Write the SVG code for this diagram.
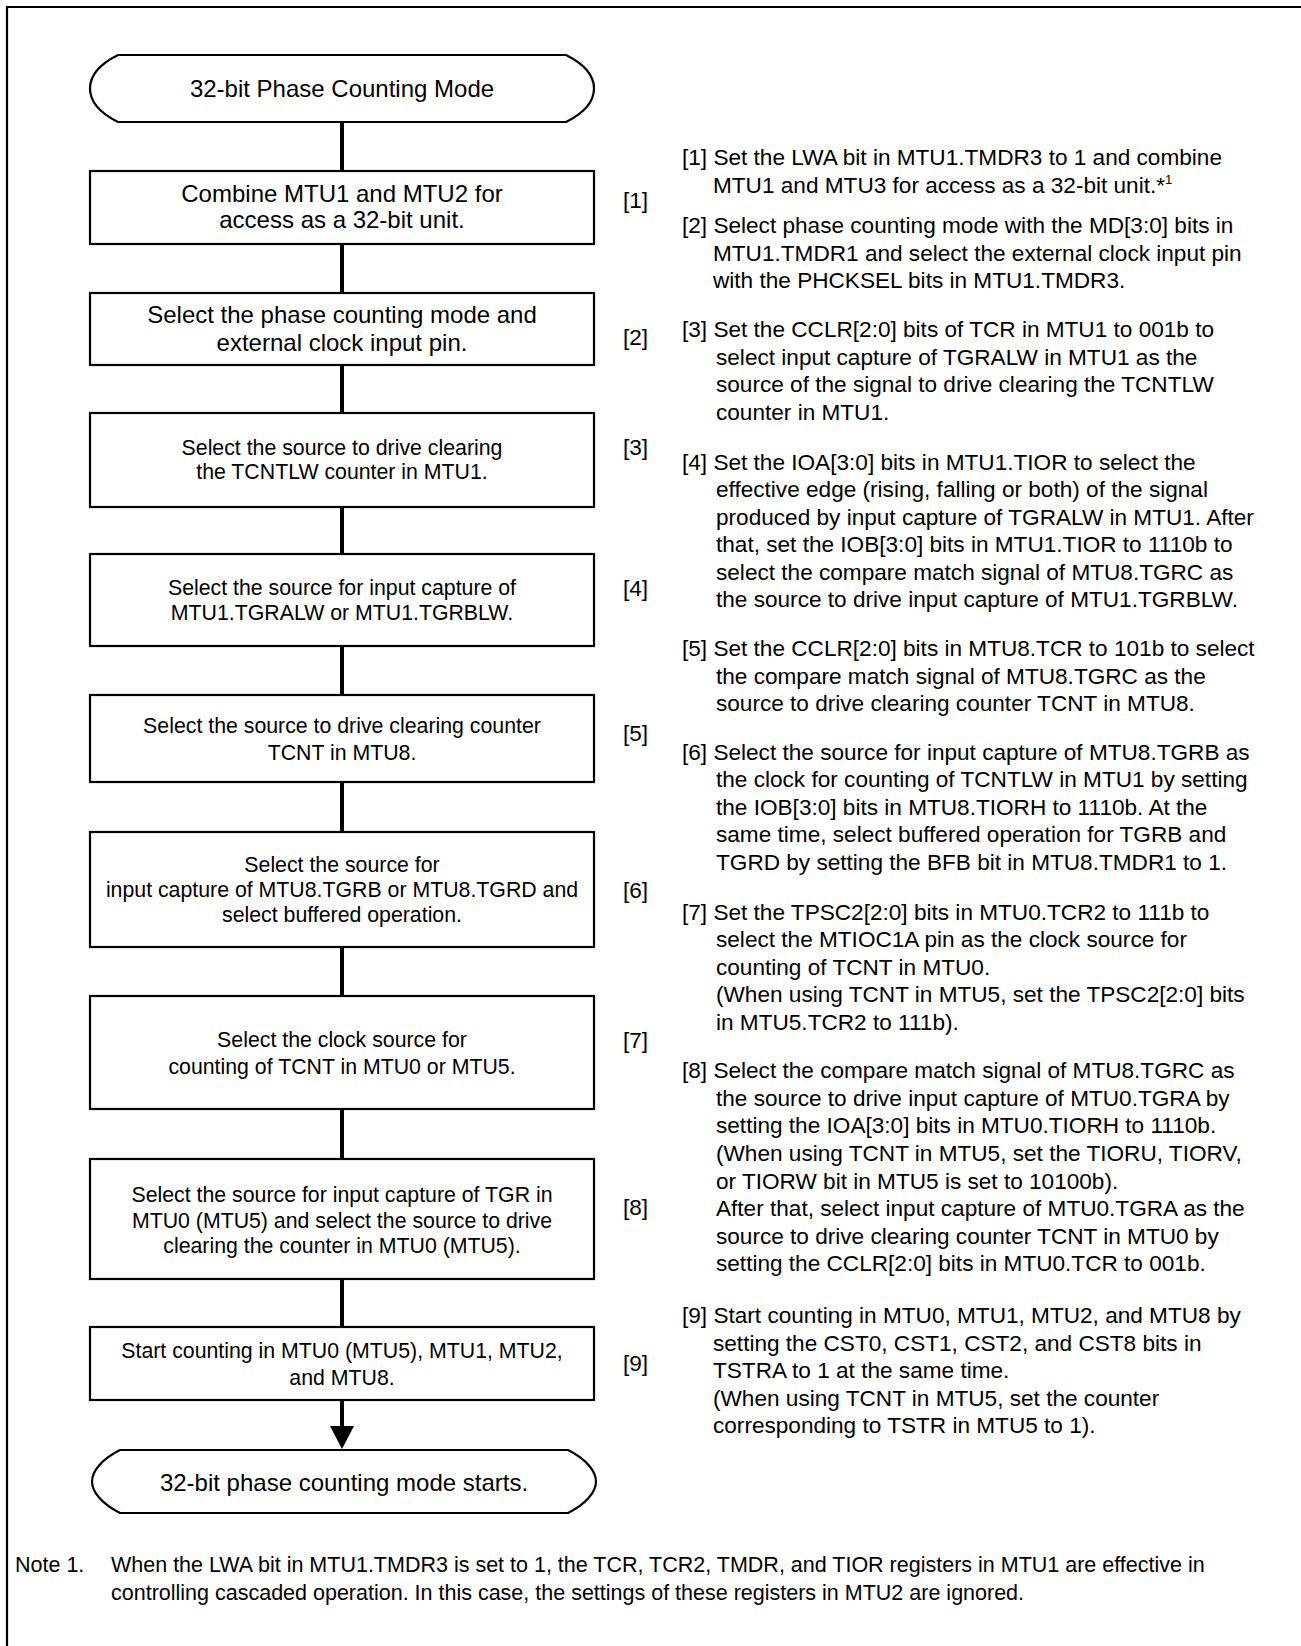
<svg xmlns="http://www.w3.org/2000/svg" width="1301" height="1646" viewBox="0 0 1301 1646">
<style>
  .frame{stroke:#000;stroke-width:2.2;fill:none}
  .box{fill:#fff;stroke:#000;stroke-width:2.2}
  .conn{stroke:#000;stroke-width:4;fill:none}
  .t{font-family:"Liberation Sans",Arial,sans-serif;font-size:21.3px;fill:#000}
  .tb{font-family:"Liberation Sans",Arial,sans-serif;font-size:24px;fill:#000}
  .c{text-anchor:middle}
  .r{font-family:"Liberation Sans",Arial,sans-serif;font-size:22.6px;fill:#000}
  .n{font-family:"Liberation Sans",Arial,sans-serif;font-size:21.5px;fill:#000}
</style>
<rect width="1301" height="1646" fill="#fff"/>
<g id="frame">
  <line class="frame" x1="7" y1="7" x2="1301" y2="7"/>
  <line class="frame" x1="7" y1="6" x2="7" y2="1646"/>
</g>
<g id="connectors">
  <line class="conn" x1="342" y1="122" x2="342" y2="171"/>
  <line class="conn" x1="342" y1="244" x2="342" y2="293"/>
  <line class="conn" x1="342" y1="365" x2="342" y2="413"/>
  <line class="conn" x1="342" y1="507" x2="342" y2="554"/>
  <line class="conn" x1="342" y1="646" x2="342" y2="695"/>
  <line class="conn" x1="342" y1="782" x2="342" y2="832"/>
  <line class="conn" x1="342" y1="947" x2="342" y2="996"/>
  <line class="conn" x1="342" y1="1109" x2="342" y2="1159"/>
  <line class="conn" x1="342" y1="1279" x2="342" y2="1327"/>
  <line class="conn" x1="342" y1="1400" x2="342" y2="1428"/>
  <polygon points="330,1426 354,1426 342,1449" fill="#000"/>
</g>
<g id="start">
  <path class="box" d="M118,55 H566 C584,64 594,76 594,88.5 C594,101 584,113 566,122 H118 C100,113 90,101 90,88.5 C90,76 100,64 118,55 Z"/>
  <text class="tb c" x="342" y="97">32-bit Phase Counting Mode</text>
</g>
<g id="step1">
  <rect class="box" x="90" y="171" width="504" height="73"/>
  <text class="tb c" x="342" y="202">Combine MTU1 and MTU2 for</text>
  <text class="tb c" x="342" y="228">access as a 32-bit unit.</text>
  <text class="r" x="623" y="208">[1]</text>
</g>
<g id="step2">
  <rect class="box" x="90" y="293" width="504" height="72"/>
  <text class="tb c" x="342" y="323">Select the phase counting mode and</text>
  <text class="tb c" x="342" y="351">external clock input pin.</text>
  <text class="r" x="623" y="345">[2]</text>
</g>
<g id="step3">
  <rect class="box" x="90" y="413" width="504" height="94"/>
  <text class="t c" x="342" y="455">Select the source to drive clearing</text>
  <text class="t c" x="342" y="479">the TCNTLW counter in MTU1.</text>
  <text class="r" x="623" y="455">[3]</text>
</g>
<g id="step4">
  <rect class="box" x="90" y="554" width="504" height="92"/>
  <text class="t c" x="342" y="595">Select the source for input capture of</text>
  <text class="t c" x="342" y="620">MTU1.TGRALW or MTU1.TGRBLW.</text>
  <text class="r" x="623" y="596">[4]</text>
</g>
<g id="step5">
  <rect class="box" x="90" y="695" width="504" height="87"/>
  <text class="t c" x="342" y="733">Select the source to drive clearing counter</text>
  <text class="t c" x="342" y="760">TCNT in MTU8.</text>
  <text class="r" x="623" y="741">[5]</text>
</g>
<g id="step6">
  <rect class="box" x="90" y="832" width="504" height="115"/>
  <text class="t c" x="342" y="872">Select the source for</text>
  <text class="t c" x="342" y="897">input capture of MTU8.TGRB or MTU8.TGRD and</text>
  <text class="t c" x="342" y="922">select buffered operation.</text>
  <text class="r" x="623" y="898">[6]</text>
</g>
<g id="step7">
  <rect class="box" x="90" y="996" width="504" height="113"/>
  <text class="t c" x="342" y="1047">Select the clock source for</text>
  <text class="t c" x="342" y="1074">counting of TCNT in MTU0 or MTU5.</text>
  <text class="r" x="623" y="1048">[7]</text>
</g>
<g id="step8">
  <rect class="box" x="90" y="1159" width="504" height="120"/>
  <text class="t c" x="342" y="1202">Select the source for input capture of TGR in</text>
  <text class="t c" x="342" y="1228">MTU0 (MTU5) and select the source to drive</text>
  <text class="t c" x="342" y="1253">clearing the counter in MTU0 (MTU5).</text>
  <text class="r" x="623" y="1215">[8]</text>
</g>
<g id="step9">
  <rect class="box" x="90" y="1327" width="504" height="73"/>
  <text class="t c" x="342" y="1358">Start counting in MTU0 (MTU5), MTU1, MTU2,</text>
  <text class="t c" x="342" y="1385">and MTU8.</text>
  <text class="r" x="623" y="1371">[9]</text>
</g>
<g id="end">
  <path class="box" d="M120,1450 H568 C586,1459 596,1471 596,1481.5 C596,1492 586,1504 568,1513 H120 C102,1504 92,1492 92,1481.5 C92,1471 102,1459 120,1450 Z"/>
  <text class="tb c" x="344" y="1491">32-bit phase counting mode starts.</text>
</g>
<g id="descriptions">
  <text class="r" x="682" y="165">[1] Set the LWA bit in MTU1.TMDR3 to 1 and combine</text>
  <text class="r" x="713" y="193">MTU1 and MTU3 for access as a 32-bit unit.*<tspan font-size="13" dy="-9">1</tspan></text>

  <text class="r" x="682" y="233">[2] Select phase counting mode with the MD[3:0] bits in</text>
  <text class="r" x="713" y="261">MTU1.TMDR1 and select the external clock input pin</text>
  <text class="r" x="713" y="288">with the PHCKSEL bits in MTU1.TMDR3.</text>

  <text class="r" x="682" y="337">[3] Set the CCLR[2:0] bits of TCR in MTU1 to 001b to</text>
  <text class="r" x="716" y="365">select input capture of TGRALW in MTU1 as the</text>
  <text class="r" x="716" y="392">source of the signal to drive clearing the TCNTLW</text>
  <text class="r" x="716" y="420">counter in MTU1.</text>

  <text class="r" x="682" y="470">[4] Set the IOA[3:0] bits in MTU1.TIOR to select the</text>
  <text class="r" x="716" y="497">effective edge (rising, falling or both) of the signal</text>
  <text class="r" x="716" y="525">produced by input capture of TGRALW in MTU1. After</text>
  <text class="r" x="716" y="552">that, set the IOB[3:0] bits in MTU1.TIOR to 1110b to</text>
  <text class="r" x="716" y="580">select the compare match signal of MTU8.TGRC as</text>
  <text class="r" x="716" y="607">the source to drive input capture of MTU1.TGRBLW.</text>

  <text class="r" x="682" y="656">[5] Set the CCLR[2:0] bits in MTU8.TCR to 101b to select</text>
  <text class="r" x="716" y="684">the compare match signal of MTU8.TGRC as the</text>
  <text class="r" x="716" y="711">source to drive clearing counter TCNT in MTU8.</text>

  <text class="r" x="682" y="760">[6] Select the source for input capture of MTU8.TGRB as</text>
  <text class="r" x="716" y="787">the clock for counting of TCNTLW in MTU1 by setting</text>
  <text class="r" x="716" y="815">the IOB[3:0] bits in MTU8.TIORH to 1110b. At the</text>
  <text class="r" x="716" y="842">same time, select buffered operation for TGRB and</text>
  <text class="r" x="716" y="870">TGRD by setting the BFB bit in MTU8.TMDR1 to 1.</text>

  <text class="r" x="682" y="920">[7] Set the TPSC2[2:0] bits in MTU0.TCR2 to 111b to</text>
  <text class="r" x="716" y="947">select the MTIOC1A pin as the clock source for</text>
  <text class="r" x="716" y="975">counting of TCNT in MTU0.</text>
  <text class="r" x="716" y="1002">(When using TCNT in MTU5, set the TPSC2[2:0] bits</text>
  <text class="r" x="716" y="1030">in MTU5.TCR2 to 111b).</text>

  <text class="r" x="682" y="1078">[8] Select the compare match signal of MTU8.TGRC as</text>
  <text class="r" x="716" y="1106">the source to drive input capture of MTU0.TGRA by</text>
  <text class="r" x="716" y="1133">setting the IOA[3:0] bits in MTU0.TIORH to 1110b.</text>
  <text class="r" x="716" y="1161">(When using TCNT in MTU5, set the TIORU, TIORV,</text>
  <text class="r" x="716" y="1189">or TIORW bit in MTU5 is set to 10100b).</text>
  <text class="r" x="716" y="1216">After that, select input capture of MTU0.TGRA as the</text>
  <text class="r" x="716" y="1244">source to drive clearing counter TCNT in MTU0 by</text>
  <text class="r" x="716" y="1271">setting the CCLR[2:0] bits in MTU0.TCR to 001b.</text>

  <text class="r" x="682" y="1323">[9] Start counting in MTU0, MTU1, MTU2, and MTU8 by</text>
  <text class="r" x="713" y="1351">setting the CST0, CST1, CST2, and CST8 bits in</text>
  <text class="r" x="713" y="1378">TSTRA to 1 at the same time.</text>
  <text class="r" x="713" y="1406">(When using TCNT in MTU5, set the counter</text>
  <text class="r" x="713" y="1433">corresponding to TSTR in MTU5 to 1).</text>
</g>
<g id="note">
  <text class="n" x="15" y="1572">Note 1.</text>
  <text class="n" x="111" y="1572">When the LWA bit in MTU1.TMDR3 is set to 1, the TCR, TCR2, TMDR, and TIOR registers in MTU1 are effective in</text>
  <text class="n" x="111" y="1600">controlling cascaded operation. In this case, the settings of these registers in MTU2 are ignored.</text>
</g>
</svg>
